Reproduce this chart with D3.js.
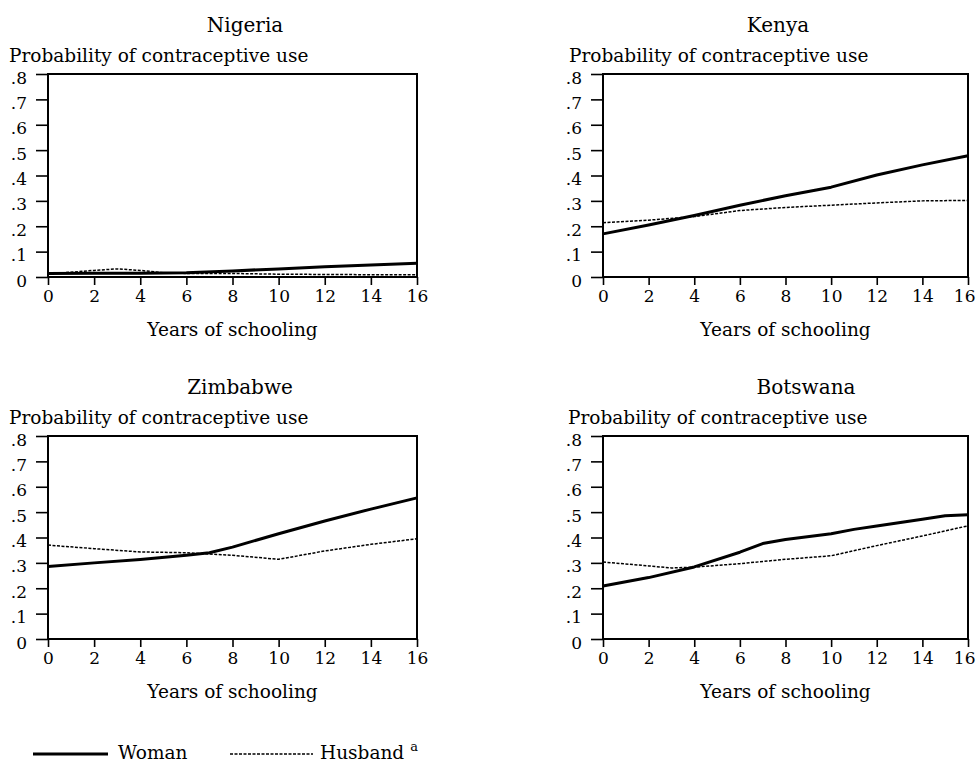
<!DOCTYPE html>
<html>
<head>
<meta charset="utf-8">
<script src="https://cdn.jsdelivr.net/npm/d3@7"></script>
<style>
  html, body { margin: 0; padding: 0; background: #fff; }
  svg text { font-family: "DejaVu Serif", "Liberation Serif", serif; fill: #000; }
</style>
</head>
<body>
<svg id="chart" width="976" height="762"></svg>
<script>
// ---- data ----
const countries = ["Nigeria", "Kenya", "Zimbabwe", "Botswana"];
const xTickValues = [0, 2, 4, 6, 8, 10, 12, 14, 16];
const yTickValues = [0, 0.1, 0.2, 0.3, 0.4, 0.5, 0.6, 0.7, 0.8];
const yTickLabels = ["0", ".1", ".2", ".3", ".4", ".5", ".6", ".7", ".8"];
const seriesNames = ["Woman", "Husband"];
const yAxisTitle = "Probability of contraceptive use";
const xAxisTitle = "Years of schooling";

// [years of schooling, probability]
const nigeriaWoman   = [[0,0.014],[2,0.015],[4,0.015],[6,0.017],[8,0.024],[10,0.032],[12,0.040],[14,0.047],[16,0.054]];
const nigeriaHusband = [[0,0.012],[2,0.026],[3,0.032],[4,0.026],[5,0.017],[6,0.014],[8,0.014],[10,0.011],[12,0.010],[14,0.009],[16,0.009]];
const kenyaWoman     = [[0,0.170],[2,0.205],[4,0.242],[6,0.283],[8,0.320],[10,0.354],[12,0.402],[14,0.442],[16,0.478]];
const kenyaHusband   = [[0,0.214],[2,0.224],[4,0.238],[6,0.262],[8,0.274],[10,0.283],[12,0.292],[14,0.300],[16,0.302]];
const zimbabweWoman  = [[0,0.286],[2,0.300],[4,0.313],[6,0.330],[7,0.340],[8,0.362],[10,0.415],[12,0.465],[14,0.512],[16,0.556]];
const zimbabweHusband= [[0,0.370],[2,0.356],[4,0.343],[6,0.340],[8,0.330],[10,0.314],[12,0.347],[14,0.373],[16,0.395]];
const botswanaWoman  = [[0,0.209],[2,0.242],[4,0.284],[6,0.342],[7,0.376],[8,0.392],[10,0.415],[11,0.432],[12,0.445],[14,0.472],[15,0.486],[16,0.490]];
const botswanaHusband= [[0,0.303],[2,0.288],[3,0.280],[4,0.283],[6,0.297],[8,0.314],[10,0.328],[12,0.368],[14,0.406],[16,0.446]];

const countryData = {
  Nigeria:  [nigeriaWoman, nigeriaHusband],
  Kenya:    [kenyaWoman, kenyaHusband],
  Zimbabwe: [zimbabweWoman, zimbabweHusband],
  Botswana: [botswanaWoman, botswanaHusband]
};

// ---- layout ----
const layout = {
  Nigeria:  { left: 48,  right: 417, top: 74,  bottom: 277, titleX: 245, ylabX: 9 },
  Kenya:    { left: 603, right: 968, top: 74,  bottom: 277, titleX: 778, ylabX: 569 },
  Zimbabwe: { left: 48,  right: 417, top: 436, bottom: 639, titleX: 240, ylabX: 9 },
  Botswana: { left: 603, right: 968, top: 436, bottom: 639, titleX: 806, ylabX: 568 }
};
const FS_TICK = 17, FS_LAB = 18.5, FS_TITLE = 20;

const svg = d3.select("#chart");
svg.append("rect").attr("width", 976).attr("height", 762).attr("fill", "#fff");

countries.forEach(c => {
  const L = layout[c];
  const x = d3.scaleLinear().domain([0, 16]).range([L.left, L.right]);
  const y = d3.scaleLinear().domain([0, 0.8]).range([L.bottom, L.top]);
  const g = svg.append("g");

  g.append("text").attr("x", L.titleX).attr("y", L.top - 42)
    .attr("text-anchor", "middle").attr("font-size", FS_TITLE).text(c);
  g.append("text").attr("x", L.ylabX).attr("y", L.top - 12)
    .attr("font-size", FS_LAB).text(yAxisTitle);

  const yAxis = d3.axisLeft(y).tickValues(yTickValues)
    .tickFormat((d, i) => yTickLabels[i]).tickSize(12).tickPadding(9);
  const ya = g.append("g").attr("transform", `translate(${L.left},0)`).call(yAxis);
  ya.select(".domain").remove();
  ya.selectAll("line").attr("stroke", "#000").attr("stroke-width", 1.6);
  ya.selectAll("text").attr("font-size", FS_TICK).attr("dy", 9);

  const xAxis = d3.axisBottom(x).tickValues(xTickValues).tickSize(8).tickPadding(5);
  const xa = g.append("g").attr("transform", `translate(0,${L.bottom})`).call(xAxis);
  xa.select(".domain").remove();
  xa.selectAll("line").attr("stroke", "#000").attr("stroke-width", 1.6);
  xa.selectAll("text").attr("font-size", FS_TICK).attr("dy", "0.71em");
  // keep the last label inside the picture on the right-hand panels
  xa.selectAll(".tick").filter(d => d === 16 && L.right > 960).select("text")
    .attr("text-anchor", "end").attr("x", 975 - L.right);

  g.append("text").attr("x", (L.left + L.right) / 2).attr("y", L.bottom + 59)
    .attr("text-anchor", "middle").attr("font-size", FS_LAB).text(xAxisTitle);

  g.append("rect").attr("x", L.left).attr("y", L.top)
    .attr("width", L.right - L.left).attr("height", L.bottom - L.top)
    .attr("fill", "none").attr("stroke", "#000").attr("stroke-width", 2);

  const line = d3.line().x(d => x(d[0])).y(d => y(d[1]));
  const [woman, husband] = countryData[c];
  g.append("path").datum(husband).attr("d", line).attr("fill", "none")
    .attr("stroke", "#000").attr("stroke-width", 1.5).attr("stroke-dasharray", "3,1.5");
  g.append("path").datum(woman).attr("d", line).attr("fill", "none")
    .attr("stroke", "#000").attr("stroke-width", 3).attr("stroke-linejoin", "round");
});

// ---- legend ----
const lg = svg.append("g");
lg.append("line").attr("x1", 33).attr("x2", 108).attr("y1", 754).attr("y2", 754)
  .attr("stroke", "#000").attr("stroke-width", 3);
lg.append("text").attr("x", 118).attr("y", 759).attr("font-size", FS_LAB).text(seriesNames[0]);
lg.append("line").attr("x1", 230).attr("x2", 313).attr("y1", 754).attr("y2", 754)
  .attr("stroke", "#000").attr("stroke-width", 1.5).attr("stroke-dasharray", "3,1.5");
const ht = lg.append("text").attr("x", 320).attr("y", 759).attr("font-size", FS_LAB).text(seriesNames[1]);
ht.append("tspan").attr("dx", 6).attr("dy", -8).attr("font-size", 13).text("a");
</script>
</body>
</html>
